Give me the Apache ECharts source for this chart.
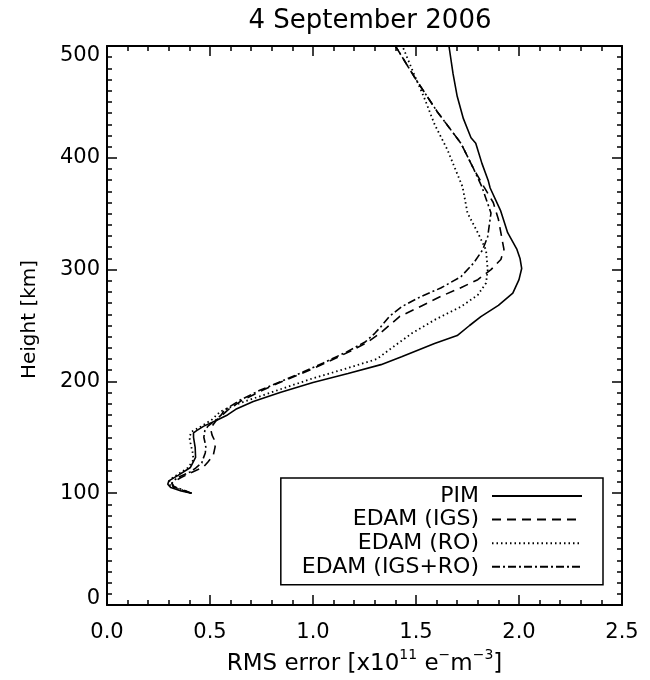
<!DOCTYPE html>
<html>
<head>
<meta charset="utf-8">
<script src="https://cdn.jsdelivr.net/npm/echarts@6/dist/echarts.min.js"></script>
<style>
html,body{margin:0;padding:0;background:#fff;}
#chart{width:650px;height:680px;}
</style>
</head>
<body>
<div id="chart"></div>
<script>
// ---- Data (RMS error in 1e11 e/m^3 versus height in km) ----
var seriesNames = ['PIM', 'EDAM (IGS)', 'EDAM (RO)', 'EDAM (IGS+RO)'];

var pimHeight = [100,102,105,108,111,116,123,132,141,150,154,156,160,165,170,175,182,190,199,207,215,222,234,241,250,258,268,279,291,301,310,318,333,353,373,380,395,413,418,435,455,475,500];
var pimValue  = [0.41,0.36,0.31,0.295,0.30,0.345,0.405,0.43,0.428,0.42,0.42,0.435,0.47,0.53,0.585,0.625,0.71,0.84,1.00,1.17,1.33,1.43,1.59,1.70,1.76,1.815,1.90,1.97,2.00,2.013,2.005,1.99,1.945,1.91,1.86,1.85,1.82,1.79,1.767,1.73,1.70,1.68,1.66];

var igsHeight = [100,103,106,109,113.6,118,123.7,128,134,141.6,148,152,156,160,165,170,175,183,192,200,207,216,226,235,243,250,258,266,276,284,291,300,309,318,330,345,360,374,390,413,441,470,500];
var igsValue  = [0.41,0.36,0.32,0.315,0.355,0.404,0.47,0.49,0.516,0.525,0.52,0.51,0.505,0.51,0.53,0.56,0.59,0.655,0.755,0.85,0.945,1.055,1.17,1.265,1.325,1.37,1.42,1.51,1.62,1.72,1.80,1.864,1.912,1.927,1.915,1.90,1.875,1.83,1.78,1.718,1.604,1.50,1.40];

var roHeight = [100,103,106,109,112,117,123,130,137,145,150,155,160,166,173,180.7,187.8,195,203,212,220,231,243,255,266.8,277.3,288,299.6,317.5,333,350.6,374,407,430,454.6,475,500];
var roValue  = [0.41,0.36,0.31,0.30,0.305,0.345,0.395,0.42,0.415,0.405,0.40,0.41,0.46,0.51,0.55,0.647,0.76,0.874,1.004,1.17,1.31,1.39,1.48,1.59,1.718,1.80,1.84,1.848,1.84,1.80,1.75,1.726,1.653,1.59,1.538,1.49,1.434];

var igsroHeight = [100,103,106,109,113.6,119,122.5,127,130,136,141,146,150,156,160,165,170,174.4,183.4,192.3,199.7,207.5,216.5,226.6,235.5,243,249,258,266.8,275.8,283.5,293.6,305.9,317.5,329.4,350.6,374,390,413,441,470,500];
var igsroValue  = [0.41,0.37,0.325,0.315,0.339,0.404,0.43,0.46,0.465,0.477,0.48,0.475,0.47,0.475,0.49,0.525,0.555,0.57,0.647,0.745,0.842,0.94,1.05,1.166,1.255,1.30,1.33,1.37,1.43,1.523,1.62,1.718,1.78,1.823,1.848,1.864,1.82,1.78,1.718,1.604,1.50,1.40];

var xTicks = [0, 0.5, 1.0, 1.5, 2.0, 2.5];
var yTicks = [0, 100, 200, 300, 400, 500];

// ---- Build ----
function pairs(vals, hs) { return vals.map(function (v, i) { return [v, hs[i]]; }); }

var FONT = 'DejaVu Sans';
var xMin = xTicks[0], xMax = xTicks[xTicks.length - 1], xInt = xTicks[1] - xTicks[0];
var yMin = yTicks[0], yMax = yTicks[yTicks.length - 1], yInt = yTicks[1] - yTicks[0];

function axisCommon(extra) {
  var base = {
    type: 'value',
    axisLine: { show: true, onZero: false, lineStyle: { color: '#000', width: 2 } },
    axisTick: { show: true, inside: true, length: 10, lineStyle: { color: '#000', width: 1.5 } },
    minorTick: { show: true, length: 5, lineStyle: { color: '#000', width: 1.5 } },
    splitLine: { show: false },
    minorSplitLine: { show: false }
  };
  for (var k in extra) base[k] = extra[k];
  return base;
}

var styles = [
  { type: 'solid', width: 1.6 },
  { type: [9, 6], width: 1.6 },
  { type: [1.5, 3], width: 1.8 },
  { type: [8, 3, 2, 3], width: 1.6 }
];
var datas = [pairs(pimValue, pimHeight), pairs(igsValue, igsHeight), pairs(roValue, roHeight), pairs(igsroValue, igsroHeight)];

var series = seriesNames.map(function (n, i) {
  return {
    name: n,
    type: 'line',
    data: datas[i],
    symbol: 'none',
    showSymbol: false,
    smooth: false,
    xAxisIndex: 0,
    yAxisIndex: 0,
    lineStyle: { color: '#000', width: styles[i].width, type: styles[i].type, cap: 'butt' },
    itemStyle: { color: '#000' },
    emphasis: { disabled: true },
    z: 3
  };
});

var chart = echarts.init(document.getElementById('chart'));
chart.setOption({
  animation: false,
  backgroundColor: '#fff',
  title: {
    text: '4 September 2006',
    left: 365,
    textAlign: 'center',
    top: 3,
    textStyle: { fontFamily: FONT, fontSize: 26, fontWeight: 'normal', color: '#000' }
  },
  grid: { left: 107, right: 28, top: 46, bottom: 75, containLabel: false, outerBoundsMode: 'none' },
  legend: {
    data: seriesNames,
    orient: 'vertical',
    align: 'right',
    right: 47,
    top: 478,
    padding: [7, 20, 7, 21],
    itemGap: 1.6,
    itemWidth: 90,
    itemHeight: 14,
    borderColor: '#000',
    borderWidth: 1.5,
    backgroundColor: '#fff',
    selectedMode: false,
    itemStyle: { color: 'rgba(0,0,0,0)', borderWidth: 0, opacity: 0 },
    textStyle: { fontFamily: FONT, fontSize: 22, color: '#000', lineHeight: 20, padding: [0, 8, 0, 0] }
  },
  xAxis: [
    axisCommon({
      position: 'bottom', min: xMin, max: xMax, interval: xInt,
      minorTick: { show: true, splitNumber: 5, length: 5, lineStyle: { color: '#000', width: 1.5 } },
      axisLabel: { show: true, margin: 17, fontFamily: FONT, fontSize: 21, color: '#000',
        formatter: function (v) { return v.toFixed(1); } },
      name: 'RMS error [x10{sup|11} e{sup|−}m{sup|−3}]',
      nameLocation: 'middle',
      nameGap: 37,
      nameTextStyle: { fontFamily: FONT, fontSize: 23, color: '#000', lineHeight: 32,
        rich: { sup: { fontFamily: FONT, fontSize: 14, color: '#000', verticalAlign: 'top', lineHeight: 15 } } }
    }),
    axisCommon({
      position: 'top', min: xMin, max: xMax, interval: xInt,
      minorTick: { show: true, splitNumber: 5, length: 5, lineStyle: { color: '#000', width: 1.5 } },
      axisLabel: { show: false }
    })
  ],
  yAxis: [
    axisCommon({
      position: 'left', min: yMin, max: yMax, interval: yInt,
      minorTick: { show: true, splitNumber: 10, length: 5, lineStyle: { color: '#000', width: 1.5 } },
      axisLabel: { show: true, margin: 7, fontFamily: FONT, fontSize: 21, color: '#000',
        formatter: function (v) {
          if (v === yMax) return '{hi|' + v + '}';
          if (v === yMin) return '{lo|' + v + '}';
          return '' + v;
        },
        rich: {
          hi: { fontFamily: FONT, fontSize: 21, color: '#000', padding: [20, 0, 0, 0] },
          lo: { fontFamily: FONT, fontSize: 21, color: '#000', padding: [0, 0, 12, 0] }
        }
      },
      name: 'Height [km]',
      nameLocation: 'middle',
      nameGap: 67,
      nameTextStyle: { fontFamily: FONT, fontSize: 20, color: '#000', padding: [0, 0, 0, 12] }
    }),
    axisCommon({
      position: 'right', min: yMin, max: yMax, interval: yInt,
      minorTick: { show: true, splitNumber: 10, length: 5, lineStyle: { color: '#000', width: 1.5 } },
      axisLabel: { show: false }
    })
  ],
  series: series
});
</script>
</body>
</html>
